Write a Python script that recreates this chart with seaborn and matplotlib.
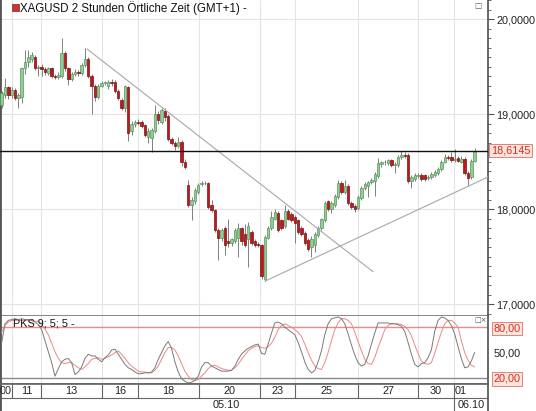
import numpy as np
import pandas as pd
import matplotlib
matplotlib.use("Agg")
import matplotlib.pyplot as plt
import matplotlib.transforms as mtransforms
from matplotlib.patches import Rectangle
from matplotlib.ticker import FuncFormatter, MultipleLocator, FixedLocator
import seaborn as sns

# 2h candles XAGUSD
opens = [19.09, 19.20, 19.28, 19.20, 19.25, 19.17, 19.18, 19.48, 19.55, 19.58,
         19.60, 19.48, 19.50, 19.47, 19.43, 19.48, 19.40, 19.39, 19.40, 19.64,
         19.48, 19.37, 19.42, 19.44, 19.43, 19.52, 19.58, 19.40, 19.30, 19.18,
         19.30, 19.33, 19.29, 19.34, 19.34, 19.24, 19.15, 19.06, 19.28, 18.82,
         18.90, 18.92, 18.92, 18.88, 18.76, 18.75, 18.82, 19.00, 18.92, 19.03,
         18.98, 18.74, 18.70, 18.66, 18.71, 18.49, 18.25, 18.04, 18.08, 18.18,
         18.26, 18.27, 18.27, 18.04, 17.99, 17.78, 17.70, 17.80, 17.66, 17.64,
         17.66, 17.70, 17.80, 17.74, 17.68, 17.76, 17.66, 17.63, 17.62, 17.26,
         17.70, 17.80, 17.90, 17.96, 17.88, 17.82, 17.98, 17.95, 17.92, 17.88,
         17.80, 17.75, 17.67, 17.60, 17.62, 17.73, 17.80, 17.88, 18.08, 18.00,
         18.04, 18.13, 18.27, 18.18, 18.24, 18.06, 18.03, 18.01, 18.12, 18.22,
         18.24, 18.28, 18.29, 18.35, 18.47, 18.49, 18.48, 18.52, 18.46, 18.46,
         18.55, 18.57, 18.57, 18.29, 18.32, 18.35, 18.36, 18.36, 18.33, 18.34,
         18.36, 18.38, 18.42, 18.50, 18.55, 18.55, 18.52, 18.54, 18.50, 18.53,
         18.38, 18.34, 18.51]
highs = [19.24, 19.38, 19.30, 19.28, 19.27, 19.22, 19.50, 19.67, 19.67, 19.65,
         19.62, 19.52, 19.53, 19.50, 19.50, 19.49, 19.42, 19.44, 19.80, 19.66,
         19.50, 19.44, 19.47, 19.46, 19.54, 19.69, 19.60, 19.42, 19.32, 19.32,
         19.35, 19.35, 19.36, 19.37, 19.36, 19.26, 19.17, 19.31, 19.29, 18.93,
         18.94, 18.95, 18.94, 18.90, 18.85, 18.85, 19.09, 19.03, 19.06, 19.06,
         19.00, 18.76, 18.72, 18.76, 18.73, 18.53, 18.31, 18.13, 18.22, 18.27,
         18.29, 18.29, 18.28, 18.10, 18.00, 17.80, 17.80, 17.82, 17.90, 17.70,
         17.80, 17.85, 17.81, 17.84, 17.86, 17.78, 17.68, 17.65, 17.63, 17.73,
         17.82, 17.98, 18.00, 17.98, 17.90, 18.04, 18.00, 17.97, 17.94, 17.90,
         17.82, 17.77, 17.70, 17.72, 17.76, 17.82, 17.91, 18.08, 18.10, 18.08,
         18.16, 18.31, 18.29, 18.31, 18.26, 18.08, 18.05, 18.15, 18.24, 18.28,
         18.30, 18.33, 18.39, 18.54, 18.51, 18.52, 18.53, 18.53, 18.49, 18.57,
         18.61, 18.60, 18.59, 18.36, 18.38, 18.38, 18.38, 18.37, 18.36, 18.39,
         18.41, 18.44, 18.52, 18.58, 18.57, 18.60, 18.63, 18.56, 18.56, 18.55,
         18.40, 18.53, 18.64]
lows = [19.06, 19.17, 19.16, 19.17, 19.15, 19.06, 19.12, 19.42, 19.50, 19.55,
        19.46, 19.40, 19.40, 19.41, 19.41, 19.38, 19.37, 19.37, 19.38, 19.45,
        19.31, 19.35, 19.40, 19.40, 19.41, 19.50, 19.38, 19.00, 19.14, 19.16,
        19.28, 19.31, 19.26, 19.29, 19.22, 19.15, 19.04, 19.02, 18.72, 18.78,
        18.86, 18.88, 18.85, 18.76, 18.70, 18.60, 18.80, 18.90, 18.90, 18.93,
        18.72, 18.67, 18.62, 18.64, 18.45, 18.42, 18.02, 17.88, 18.05, 18.16,
        18.24, 18.25, 18.00, 17.97, 17.76, 17.46, 17.66, 17.52, 17.60, 17.61,
        17.64, 17.49, 17.62, 17.60, 17.39, 17.62, 17.60, 17.60, 17.26, 17.24,
        17.68, 17.78, 17.88, 17.76, 17.78, 17.80, 17.88, 17.86, 17.64, 17.74,
        17.72, 17.62, 17.56, 17.49, 17.55, 17.71, 17.78, 17.86, 17.98, 17.96,
        18.02, 18.11, 18.16, 18.16, 18.04, 18.00, 17.97, 17.99, 18.10, 18.20,
        18.13, 18.26, 18.14, 18.33, 18.44, 18.46, 18.46, 18.44, 18.38, 18.44,
        18.53, 18.54, 18.27, 18.22, 18.30, 18.33, 18.30, 18.30, 18.31, 18.32,
        18.34, 18.36, 18.40, 18.48, 18.52, 18.50, 18.50, 18.49, 18.48, 18.36,
        18.24, 18.32, 18.49]
closes = [19.22, 19.28, 19.20, 19.25, 19.17, 19.20, 19.48, 19.55, 19.60, 19.62,
          19.48, 19.50, 19.47, 19.44, 19.48, 19.40, 19.39, 19.41, 19.64, 19.48,
          19.37, 19.42, 19.44, 19.43, 19.52, 19.58, 19.40, 19.30, 19.18, 19.30,
          19.33, 19.34, 19.34, 19.33, 19.24, 19.17, 19.06, 19.29, 18.80, 18.90,
          18.92, 18.91, 18.87, 18.78, 18.82, 18.83, 19.00, 18.94, 19.04, 18.97,
          18.74, 18.70, 18.66, 18.71, 18.49, 18.44, 18.04, 18.10, 18.20, 18.25,
          18.27, 18.27, 18.02, 17.99, 17.78, 17.70, 17.78, 17.62, 17.64, 17.68,
          17.78, 17.80, 17.66, 17.62, 17.82, 17.64, 17.62, 17.62, 17.30, 17.71,
          17.80, 17.92, 17.97, 17.78, 17.80, 17.98, 17.90, 17.88, 17.85, 17.76,
          17.74, 17.64, 17.58, 17.68, 17.74, 17.80, 17.89, 18.06, 18.00, 18.06,
          18.14, 18.27, 18.18, 18.24, 18.06, 18.02, 18.00, 18.13, 18.22, 18.26,
          18.28, 18.31, 18.37, 18.48, 18.49, 18.50, 18.52, 18.46, 18.47, 18.55,
          18.57, 18.56, 18.29, 18.34, 18.36, 18.36, 18.32, 18.32, 18.34, 18.37,
          18.39, 18.42, 18.50, 18.55, 18.54, 18.52, 18.53, 18.51, 18.53, 18.38,
          18.33, 18.51, 18.6145]

# PKS 9;5;5 oscillator (grey %K, red %D)
pks_k = [62, 84, 88, 89, 90, 89, 90, 89, 89, 88,
         86, 83, 77, 64, 51, 38, 22, 31, 39, 42,
         43, 38, 24, 27, 33, 43, 48, 46, 46, 42,
         39, 44, 47, 53, 54, 48, 42, 36, 32, 30,
         27, 25, 25, 26, 26, 27, 32, 42, 50, 58,
         63, 55, 39, 27, 19, 16, 14, 15, 17, 22,
         33, 38, 38, 34, 32, 30, 28, 28, 28, 29,
         34, 42, 48, 52, 55, 57, 59, 60, 49, 48,
         60, 73, 85, 86, 84, 80, 77, 74, 71, 62,
         51, 39, 30, 26, 29, 39, 52, 71, 84, 90,
         91, 92, 90, 84, 72, 59, 47, 38, 34, 36,
         46, 60, 73, 85, 85, 85, 85, 84, 84, 83,
         81, 75, 62, 48, 36, 33, 37, 38, 44, 53,
         75, 88, 92, 91, 88, 82, 72, 57, 43, 32,
         33, 40, 50]
pks_d = [74, 82, 86, 88, 88, 88, 88, 88, 88, 88,
         87, 87, 83, 78, 71, 61, 51, 43, 38, 37,
         38, 38, 35, 32, 30, 33, 37, 42, 43, 44,
         42, 43, 45, 47, 50, 52, 48, 43, 38, 34,
         31, 28, 27, 27, 26, 26, 29, 34, 42, 50,
         56, 56, 53, 46, 37, 28, 22, 18, 17, 18,
         22, 26, 31, 34, 35, 33, 31, 30, 29, 29,
         32, 36, 42, 47, 52, 55, 57, 58, 56, 55,
         57, 61, 68, 77, 82, 84, 82, 80, 77, 74,
         69, 60, 50, 41, 34, 31, 30, 38, 50, 64,
         77, 85, 90, 90, 88, 84, 74, 63, 52, 42,
         37, 36, 44, 56, 66, 77, 82, 84, 84, 84,
         83, 81, 77, 70, 59, 49, 40, 37, 36, 38,
         49, 62, 74, 84, 88, 88, 85, 80, 64, 50,
         41, 35, 33]

last_price = 18.6145
trend_down_x = [25.6, 111.5]
trend_down_y = [19.685, 17.34]
trend_up_x = [79.0, 146.0]
trend_up_y = [17.24, 18.337]

day_labels = ["00", "11", "13", "16", "18", "20", "23", "25", "27", "30", "01"]
day_label_pos = [1.3, 7.45, 21.0, 35.5, 50.1, 68.4, 82.8, 97.5, 116.0, 130.4, 137.9]
day_edges = [3.1, 11.8, 30.1, 40.9, 59.2, 77.6, 88.1, 107.0, 125.0, 135.8]
month_labels = ["05.10", "06.10"]
month_label_pos = [67.4, 140.9]
month_edge = 135.8

df = pd.DataFrame({"open": opens, "high": highs, "low": lows, "close": closes,
                   "k": pks_k, "d": pks_d})
df["bar"] = np.arange(len(df))

sns.set_theme(style="white")
plt.rcParams["font.family"] = ["Liberation Sans", "DejaVu Sans"]

W, H = 536, 411
fig = plt.figure(figsize=(W / 100, H / 100), dpi=100)
ax = fig.add_axes([0, 1 - 316 / H, 488 / W, 316 / H])
ax_o = fig.add_axes([0, 1 - 384 / H, 488 / W, 68 / H])
ax_d = fig.add_axes([0, 0, 488 / W, 27 / H])

xlim = (-0.51, 146.0)
spine_c = "#555555"
grid_c = "#e4e4e4"

# ---- price panel
up = df["close"] >= df["open"]
ax.vlines(df["bar"], df["low"], df["high"], color="#808080", lw=0.7, zorder=2)
body_lo = np.minimum(df["open"], df["close"])
body_h = np.abs(df["close"] - df["open"])
ax.bar(df["bar"][up], body_h[up], bottom=body_lo[up], width=0.72,
       color="#8fcf93", edgecolor="#5a945e", lw=0.5, zorder=3)
ax.bar(df["bar"][~up], body_h[~up], bottom=body_lo[~up], width=0.72,
       color="#bb1a1e", edgecolor="#7d1012", lw=0.5, zorder=3)

ax.plot(trend_down_x, trend_down_y, color="#a8a8a8", lw=0.8, zorder=4)
ax.plot(trend_up_x, trend_up_y, color="#a8a8a8", lw=0.8, zorder=4)
ax.axhline(last_price, color="#111111", lw=1.0, zorder=4)

ax.set_xlim(*xlim)
ax.set_ylim(16.874, 20.2)
ax.xaxis.set_major_locator(FixedLocator(day_edges))
ax.tick_params(axis="x", length=0, labelbottom=False)
ax.yaxis.tick_right()
ax.yaxis.set_major_locator(MultipleLocator(1.0))
ax.yaxis.set_minor_locator(MultipleLocator(0.1))
ax.yaxis.set_major_formatter(FuncFormatter(lambda v, p: f"{v:.4f}".replace(".", ",")))
ax.tick_params(axis="y", which="major", length=4, width=0.8, color=spine_c,
               labelsize=7.8, pad=2, labelcolor="#222222")
ax.tick_params(axis="y", which="minor", length=2, width=0.6, color=spine_c)
ax.grid(True, which="major", color=grid_c, lw=0.8)
ax.set_xlabel("")
ax.set_ylabel("")
ax.spines["top"].set_visible(False)
ax.spines["right"].set_color(spine_c)
ax.spines["left"].set_color(spine_c)
ax.spines["left"].set_linewidth(2)
ax.spines["bottom"].set_color("#777777")

tr = mtransforms.blended_transform_factory(ax.transAxes, ax.transData)
ax.text(1.006, last_price, "18,6145", transform=tr, ha="left", va="center",
        fontsize=7.8, color="#d62c2c", clip_on=False,
        bbox=dict(boxstyle="square,pad=0.15", facecolor="#fbe5d8", edgecolor="#e58080", lw=0.7))

ax.add_patch(Rectangle((12 / 488, 1 - 11 / 316), 7 / 488, 7 / 316, transform=ax.transAxes,
                       facecolor="#cc3333", edgecolor="#882222", lw=0.5, zorder=5))
ax.text(20 / 488, 1 - 8 / 316, "XAGUSD 2 Stunden Örtliche Zeit (GMT+1) -",
        transform=ax.transAxes, ha="left", va="center", fontsize=8.3, color="#111111")
ax.text(478 / 488, 1 - 5 / 316, "□", transform=ax.transAxes, ha="center", va="center",
        fontsize=5.5, color="#555555", family="DejaVu Sans")

# ---- oscillator panel
sns.lineplot(data=df, x="bar", y="k", ax=ax_o, color="#7a7a7a", lw=0.7, zorder=4)
sns.lineplot(data=df, x="bar", y="d", ax=ax_o, color="#ec8888", lw=0.7, zorder=3)
ax_o.axhline(80, color="#f08a8a", lw=1.0, zorder=2)
ax_o.axhline(20, color="#8a8a8a", lw=1.0, zorder=2)
ax_o.set_xlim(*xlim)
ax_o.set_ylim(12.8, 93.2)
ax_o.xaxis.set_major_locator(FixedLocator(day_edges))
ax_o.tick_params(axis="x", length=0, labelbottom=False)
ax_o.yaxis.tick_right()
ax_o.set_yticks([20, 50, 80])
ax_o.set_yticklabels(["20,00", "50,00", "80,00"])
ax_o.tick_params(axis="y", length=0, labelsize=7.8, pad=4, labelcolor="#222222")
ax_o.grid(True, axis="x", color=grid_c, lw=0.8)
ax_o.set_xlabel("")
ax_o.set_ylabel("")
for lbl in ax_o.get_yticklabels():
    if lbl.get_text() in ("20,00", "80,00"):
        lbl.set_color("#d62c2c")
        lbl.set_bbox(dict(boxstyle="square,pad=0.15", facecolor="#fbe5d8",
                          edgecolor="#e58080", lw=0.7))
ax_o.spines["top"].set_visible(False)
ax_o.spines["right"].set_color(spine_c)
ax_o.spines["left"].set_color(spine_c)
ax_o.spines["left"].set_linewidth(2)
ax_o.spines["bottom"].set_color("#666666")
ax_o.text(13 / 488, 1 - 7 / 68, "PKS 9; 5; 5 -", transform=ax_o.transAxes,
          ha="left", va="center", fontsize=7.8, color="#111111")
ax_o.text(481 / 488, 1 - 4 / 68, "□×", transform=ax_o.transAxes, ha="center", va="center",
          fontsize=5, color="#555555", family="DejaVu Sans")

# ---- date strip
ax_d.set_xlim(*xlim)
ax_d.set_ylim(0, 1)
ax_d.set_xticks([])
ax_d.set_yticks([])
ax_d.axhline(0.48, color="#666666", lw=0.8)
ax_d.vlines(day_edges, 0.48, 1, color="#666666", lw=0.8)
ax_d.vlines([month_edge], 0, 0.48, color="#666666", lw=0.8)
for lab, pos in zip(day_labels, day_label_pos):
    ax_d.text(pos, 0.74, lab, ha="center", va="center", fontsize=7.8, color="#222222", clip_on=True)
for lab, pos in zip(month_labels, month_label_pos):
    ax_d.text(pos, 0.22, lab, ha="center", va="center", fontsize=7.8, color="#222222", clip_on=True)
ax_d.spines["top"].set_color("#666666")
ax_d.spines["bottom"].set_visible(False)
ax_d.spines["right"].set_color(spine_c)
ax_d.spines["left"].set_color(spine_c)
ax_d.spines["left"].set_linewidth(2)

fig.savefig("out.png", dpi=100)
